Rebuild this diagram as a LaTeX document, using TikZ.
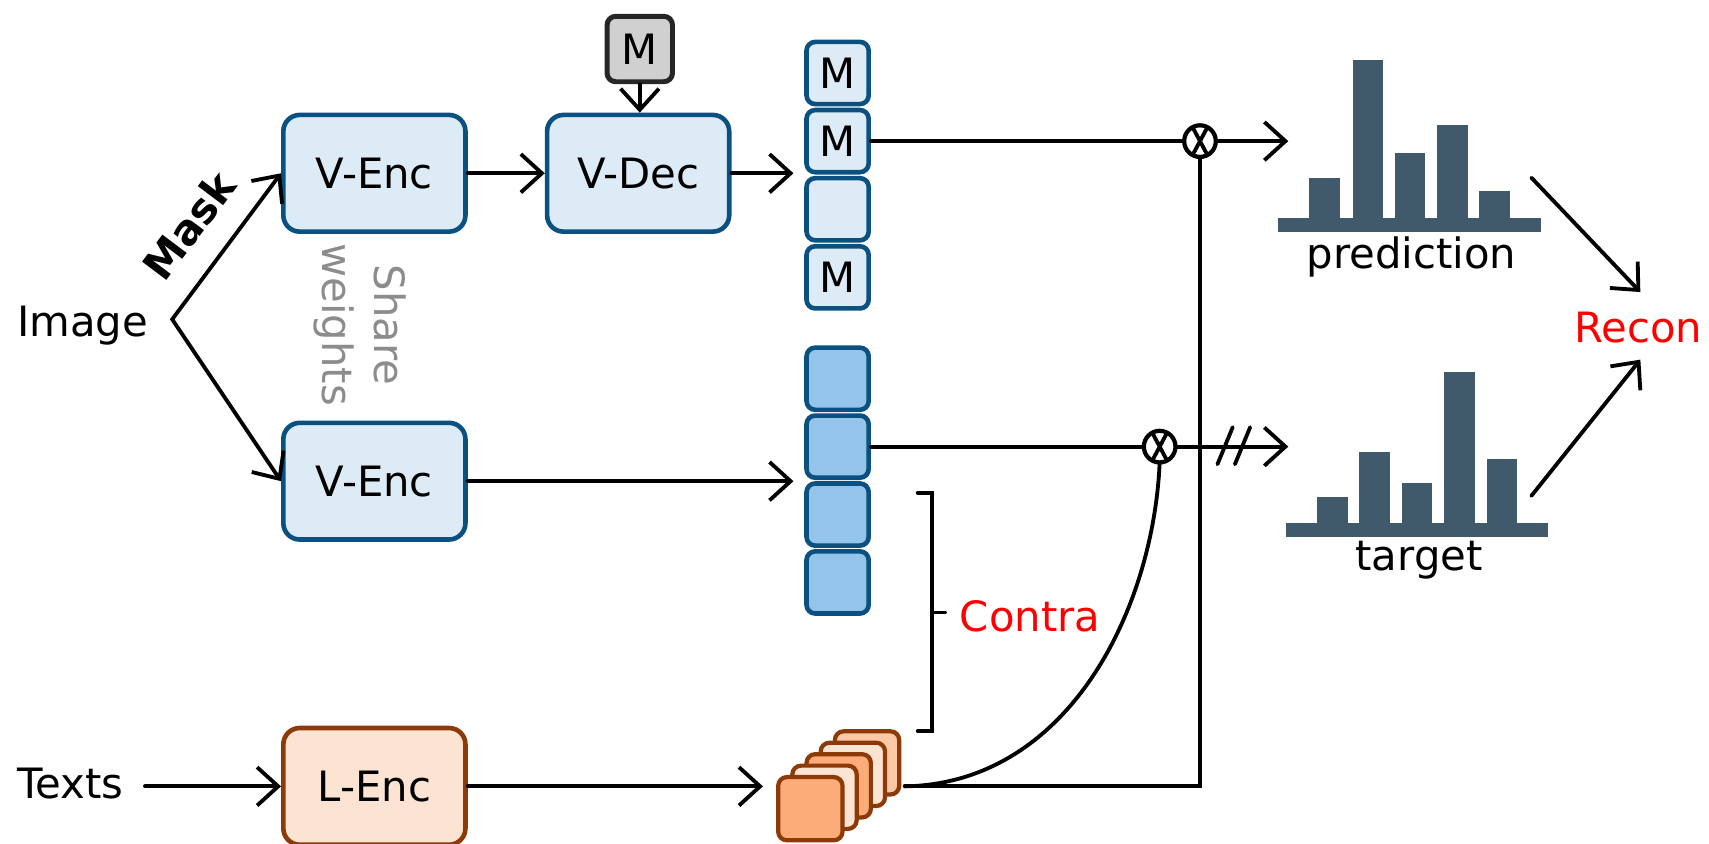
\documentclass[tikz,border=0pt]{standalone}
\usepackage{fontspec}
\setmainfont{DejaVu Sans}
\usetikzlibrary{arrows.meta}
\definecolor{blueS}{RGB}{10,80,128}
\definecolor{blueL}{RGB}{221,235,247}
\definecolor{blueM}{RGB}{148,196,233}
\definecolor{oraS}{RGB}{140,58,8}
\definecolor{oraL}{RGB}{253,228,210}
\definecolor{oraD}{RGB}{251,172,120}
\definecolor{oraB}{RGB}{252,200,165}
\definecolor{histC}{RGB}{64,90,108}
\definecolor{grayF}{RGB}{208,208,208}
\definecolor{grayS}{RGB}{38,38,38}
\definecolor{shareC}{RGB}{140,140,140}
\begin{document}
\begin{tikzpicture}[x=0.01cm,y=-0.01cm,
  txt/.style={font=\fontsize{10.9}{13.5}\selectfont, inner sep=0pt},
  bigbox/.style={draw=blueS, fill=blueL, line width=1.2pt, rounded corners=0.15cm, minimum width=1.67cm, minimum height=1.07cm, txt},
  lbox/.style={bigbox, draw=oraS, fill=oraL},
  token/.style={draw=blueS, fill=blueL, line width=1.2pt, rounded corners=0.08cm, minimum width=0.57cm, minimum height=0.57cm, txt},
  tokenf/.style={token, fill=blueM},
  mkbox/.style={draw=grayS, fill=grayF, line width=1.3pt, rounded corners=0.08cm, minimum width=0.6cm, minimum height=0.6cm, txt},
  stk/.style={draw=oraS, line width=1.1pt, rounded corners=0.08cm, minimum width=0.59cm, minimum height=0.58cm, inner sep=0pt},
  otimes/.style={circle, draw, line width=1.1pt, fill=white, minimum size=0.29cm, inner sep=0pt, outer sep=0pt},
  conn/.style={line width=1pt, line cap=round},
  arr/.style={conn, -{Straight Barb[length=5.5pt,width=10pt]}},
  arr2/.style={conn, {Straight Barb[length=5.5pt,width=10pt]}-{Straight Barb[length=5.5pt,width=10pt]}}
]
\useasboundingbox (0,0) rectangle (1568,774);

% main boxes
\node[bigbox] (venc1) at (343.5,159) {V-Enc};
\node[bigbox] (vdec) at (585.5,159) {V-Dec};
\node[bigbox] (venc2) at (343.5,441.5) {V-Enc};
\node[lbox] (lenc) at (343.5,721.5) {L-Enc};
\node[mkbox] (mk) at (587,45) {M};

% token columns
\node[token] (t1) at (768.5,67) {M};
\node[token] (t2) at (768.5,129.5) {M};
\node[token] (t3) at (768.5,192) {};
\node[token] (t4) at (768.5,254.5) {M};
\node[tokenf] (b1) at (768.5,347.5) {};
\node[tokenf] (b2) at (768.5,409.8) {};
\node[tokenf] (b3) at (768.5,472.1) {};
\node[tokenf] (b4) at (768.5,534.4) {};

% text stack
\node[stk, fill=oraB] (s4) at (795.5,700) {};
\node[stk, fill=oraL] (s3) at (782.5,710.5) {};
\node[stk, fill=oraD] (s2) at (769.5,721) {};
\node[stk, fill=oraL] (s1) at (756.5,731.5) {};
\node[stk, fill=oraD] (s0) at (743.5,742) {};

% labels
\node[txt, anchor=base west] (img) at (15,309) {Image};
\node[txt, anchor=base west] (texts) at (15,733) {Texts};
\node[txt, font=\fontsize{10.9}{13.5}\selectfont\bfseries, rotate=53] (mask) at (173,207) {Mask};
\node[txt, rotate=-90, align=center, text=shareC] (share) at (330,298) {Share\\weights};
\node[txt, anchor=base west, text=red] (contra) at (880,579) {Contra};
\node[txt, anchor=base, text=red] (recon) at (1503,314) {Recon};
\node[txt, anchor=base] (predl) at (1295,246) {prediction};
\node[txt, anchor=base] (targl) at (1302,523) {target};

% coordinates
\coordinate (br) at (158,293);
\coordinate (ti) at (133,721.5);
\coordinate (vdecT) at (728,159);
\coordinate (venc2T) at (728,441.5);
\coordinate (lencT) at (700,721.5);
\coordinate (se) at (830,721.5);
\coordinate (p1) at (1182,129.5);
\coordinate (p2) at (1182,409.8);
\coordinate (pr) at (1405,163);
\coordinate (tr) at (1405,455);
\coordinate (ra) at (1505,268);
\coordinate (rb) at (1505,330);

\node[otimes] (x1) at (1101,129.5) {};
\node[otimes] (x2) at (1064,409.8) {};

% connectors
\draw[arr2] (venc1.west) -- (br) -- (venc2.west);
\draw[arr] (ti) -- (lenc.west);
\draw[arr] (venc1) -- (vdec);
\draw[arr] (mk.south) -- (mk.south |- vdec.north);
\draw[arr] (vdec.east) -- (vdecT);
\draw[arr] (venc2.east) -- (venc2T);
\draw[arr] (lenc.east) -- (lencT);
\draw[conn] (t2.east) -- (x1.west);
\draw[arr] (x1.east) -- (p1);
\draw[conn] (b2.east) -- (x2.west);
\draw[arr] (x2.east) -- (p2);
\draw[conn] (x1.south) -- (x1.south |- se) -- (se);
\draw[conn] (se) .. controls (980,719) and (1058,560) .. (x2.south);
\draw[line width=1pt] (x1.62) -- (x1.242) (x1.118) -- (x1.298);
\draw[line width=1pt] (x2.62) -- (x2.242) (x2.118) -- (x2.298);
\draw[conn] (1117,426) -- (1131,392) (1133,426) -- (1147,392);
\draw[conn] (842,452) -- (855,452) -- (855,671) -- (842,671);
\draw[conn] (855,562) -- (867,562);
\draw[arr] (pr) -- (ra);
\draw[arr] (tr) -- (rb);

% histograms
\fill[histC] (1173,200) rectangle (1413.5,212.5);
\fill[histC] (1201,200) rectangle (1229.5,163);
\fill[histC] (1241,200) rectangle (1268.5,55);
\fill[histC] (1279.5,200) rectangle (1307,140);
\fill[histC] (1318.5,200) rectangle (1346.5,115);
\fill[histC] (1357,200) rectangle (1385.5,175);

\fill[histC] (1180,480) rectangle (1420,492.5);
\fill[histC] (1208,480) rectangle (1236.5,456);
\fill[histC] (1247,480) rectangle (1275.3,415);
\fill[histC] (1286,480) rectangle (1314,443);
\fill[histC] (1325.2,480) rectangle (1353.3,341);
\fill[histC] (1364,480) rectangle (1391.6,421);
\end{tikzpicture}
\end{document}
